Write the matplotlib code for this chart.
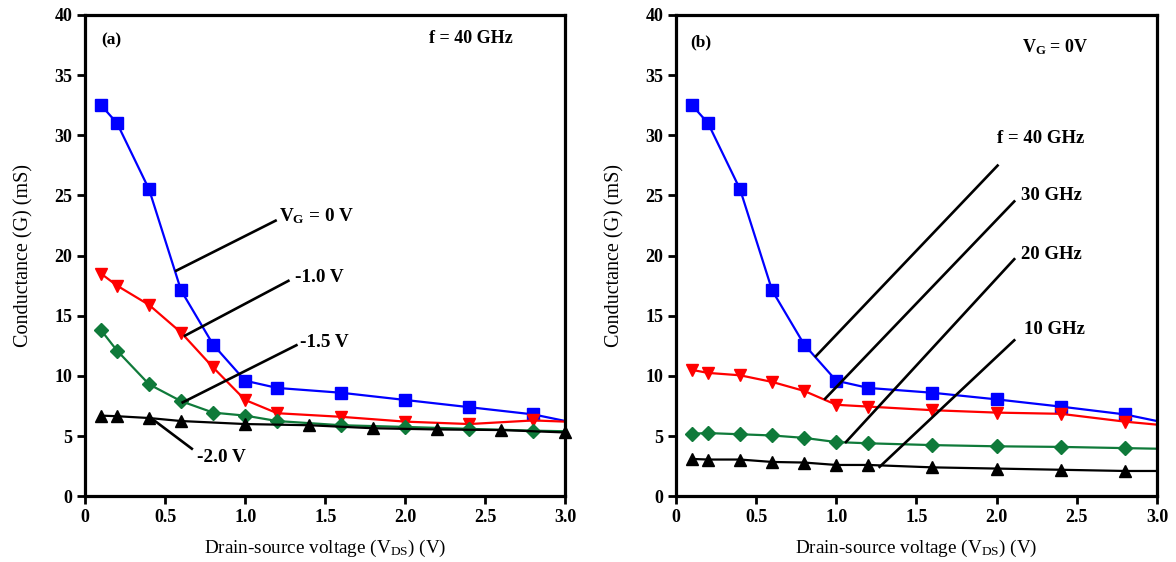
import matplotlib
matplotlib.use("Agg")
import matplotlib.pyplot as plt

plt.rcParams['font.family'] = ['Liberation Serif', 'DejaVu Serif']
plt.rcParams['mathtext.default'] = 'regular'

# ---------------- data ----------------
vds = [0.1, 0.2, 0.4, 0.6, 0.8, 1.0, 1.2, 1.6, 2.0, 2.4, 2.8, 3.0]

# (a) f = 40 GHz, different gate voltages
a_vg0 = [32.5, 31.0, 25.5, 17.1, 12.6, 9.6, 9.0, 8.6, 8.0, 7.4, 6.8, 6.25]
a_vg1 = [18.5, 17.5, 15.9, 13.6, 10.7, 8.0, 6.9, 6.6, 6.2, 6.0, 6.3, 6.2]
a_vg15 = [13.8, 12.1, 9.3, 7.9, 6.95, 6.7, 6.25, 5.9, 5.76, 5.6, 5.45, 5.4]
vds_a2 = [0.1, 0.2, 0.4, 0.6, 1.0, 1.4, 1.8, 2.2, 2.6, 3.0]
a_vg2 = [6.7, 6.65, 6.5, 6.25, 6.0, 5.9, 5.65, 5.55, 5.5, 5.3]

# (b) VG = 0 V, different frequencies
b_40 = [32.5, 31.0, 25.5, 17.1, 12.6, 9.6, 9.0, 8.6, 8.05, 7.45, 6.8, 6.25]
b_30 = [10.5, 10.25, 10.05, 9.5, 8.75, 7.6, 7.45, 7.15, 6.95, 6.85, 6.2, 5.95]
b_20 = [5.2, 5.25, 5.15, 5.05, 4.85, 4.5, 4.4, 4.25, 4.15, 4.1, 4.0, 3.95]
b_10 = [3.1, 3.05, 3.05, 2.85, 2.8, 2.6, 2.6, 2.4, 2.3, 2.2, 2.1, 2.1]

a_labels = ['V$_{G}$ = 0 V', '-1.0 V', '-1.5 V', '-2.0 V']
b_labels = ['f = 40 GHz', '30 GHz', '20 GHz', '10 GHz']

BLUE = '#0000ff'
RED = '#ff0000'
GREEN = '#0f7a3a'
BLACK = '#000000'

fig = plt.figure(figsize=(11.76, 5.62), dpi=100)
axA = fig.add_axes([0.0723, 0.117, 0.4085, 0.8565])
axB = fig.add_axes([0.5748, 0.117, 0.409, 0.8565])

mk = list(range(len(vds) - 1))
lw = 1.6
ms = 8.3

def style(ax):
    ax.set_xlim(0, 3.0)
    ax.set_ylim(0, 40)
    ax.set_xticks([0, 0.5, 1.0, 1.5, 2.0, 2.5, 3.0])
    ax.set_xticklabels(['0', '0.5', '1.0', '1.5', '2.0', '2.5', '3.0'])
    ax.set_yticks(range(0, 41, 5))
    for s in ax.spines.values():
        s.set_linewidth(2.3)
    ax.tick_params(direction='out', length=6, width=2, labelsize=13, pad=3)
    for t in ax.get_xticklabels() + ax.get_yticklabels():
        t.set_fontweight('bold')
    ax.set_xlabel('Drain-source voltage (V$_{DS}$) (V)', fontsize=13.8, labelpad=9)
    ax.set_ylabel('Conductance (G) (mS)', fontsize=14.5, labelpad=15)

# ---- panel (a)
axA.plot(vds, a_vg0, '-s', color=BLUE, lw=lw, ms=ms, markevery=mk)
axA.plot(vds, a_vg1, '-v', color=RED, lw=lw, ms=ms, markevery=mk)
axA.plot(vds, a_vg15, '-D', color=GREEN, lw=lw, ms=6.8, markevery=mk)
axA.plot(vds_a2, a_vg2, '-^', color=BLACK, lw=lw, ms=ms, clip_on=False)
style(axA)

a_ann = [((0.569, 18.74), (1.19, 22.9), (1.21, 23.3)),
         ((0.625, 13.35), (1.27, 17.9), (1.31, 18.2)),
         ((0.61, 7.8), (1.32, 12.55), (1.34, 12.8)),
         ((0.417, 6.45), (0.667, 3.95), (0.70, 3.2))]
for lab, (p0, p1, pt) in zip(a_labels, a_ann):
    axA.plot([p0[0], p1[0]], [p0[1], p1[1]], color='black', lw=1.9)
    axA.text(pt[0], pt[1], lab, fontsize=13.8, fontweight='bold', ha='left', va='center')
axA.text(0.1, 37.9, '(a)', fontsize=12.5, fontweight='bold', ha='left', va='center')
axA.text(2.15, 38.0, 'f = 40 GHz', fontsize=13, fontweight='bold', ha='left', va='center')

# ---- panel (b)
axB.plot(vds, b_40, '-s', color=BLUE, lw=lw, ms=ms, markevery=mk)
axB.plot(vds, b_30, '-v', color=RED, lw=lw, ms=ms, markevery=mk)
axB.plot(vds, b_20, '-D', color=GREEN, lw=lw, ms=6.8, markevery=mk)
axB.plot(vds, b_10, '-^', color=BLACK, lw=lw, ms=ms, markevery=mk)
style(axB)

b_ann = [((0.872, 11.63), (2.006, 27.48), (2.0, 29.75)),
         ((0.93, 8.1), (2.11, 24.5), (2.15, 25.0)),
         ((1.06, 4.5), (2.11, 19.7), (2.15, 20.1)),
         ((1.27, 2.44), (2.11, 12.96), (2.17, 13.85))]
for lab, (p0, p1, pt) in zip(b_labels, b_ann):
    axB.plot([p0[0], p1[0]], [p0[1], p1[1]], color='black', lw=1.9)
    axB.text(pt[0], pt[1], lab, fontsize=13.5, fontweight='bold', ha='left', va='center')
axB.text(0.09, 37.7, '(b)', fontsize=12.5, fontweight='bold', ha='left', va='center')
axB.text(2.16, 37.3, 'V$_{G}$ = 0V', fontsize=13, fontweight='bold', ha='left', va='center')

fig.savefig('out.png', dpi=100)
